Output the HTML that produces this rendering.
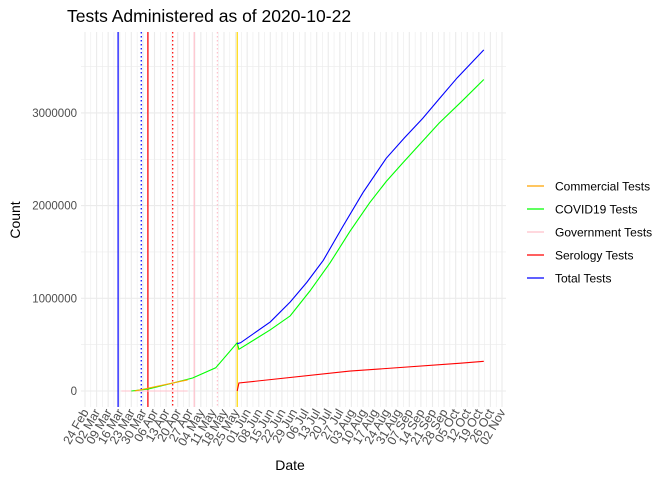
<!DOCTYPE html>
<html><head><meta charset="utf-8"><style>
body{margin:0;background:#fff;font-family:"Liberation Sans",sans-serif}
svg text{font-family:"Liberation Sans",sans-serif}
</style></head><body>
<svg id="c" width="672" height="480" xmlns="http://www.w3.org/2000/svg">
<text x="67" y="22" font-size="17.5" fill="#000">Tests Administered as of 2020-10-22</text>
<text x="290" y="470" font-size="14" text-anchor="middle">Date</text>
<text transform="translate(20,220) rotate(-90)" font-size="14" text-anchor="middle">Count</text>
<g id="grid"></g><g id="vl"></g><g id="series"></g><g id="axes"></g><g id="legend"></g>
</svg>
<script>
// days since 2020-02-24
const totalDays=[92,94,112,124,134,144,156,168,182,193,204,214,225,241];
const totalVals=[510000,520000,745000,960000,1170000,1410000,1780000,2140000,2510000,2730000,2940000,3150000,3380000,3680000];
const covidDays=[28,38,53,65,79,92,93,112,124,136,148,160,172,182,192,214,228,241];
const covidVals=[0,20000,85000,140000,250000,520000,450000,660000,810000,1080000,1380000,1720000,2030000,2260000,2460000,2890000,3130000,3360000];
const seroDays=[92,93,160,227,241];
const seroVals=[0,86000,215000,300000,320000];
const commDays=[30,62];
const commVals=[0,120000];
const govDays=[22,62];
const govVals=[0,0];
const vlineDays=[20,34,38,53,66,80,92];
const vlineColors=["#0000ff","#0000ff","#ff0000","#ff0000","#ffc0cb","#ffc0cb","#ffd700"];
const vlineDash=[false,true,false,true,false,true,false];
const tickLabels=["24 Feb","02 Mar","09 Mar","16 Mar","23 Mar","30 Mar","06 Apr","13 Apr","20 Apr","27 Apr","04 May","11 May","18 May","25 May","01 Jun","08 Jun","15 Jun","22 Jun","29 Jun","06 Jul","13 Jul","20 Jul","27 Jul","03 Aug","10 Aug","17 Aug","24 Aug","31 Aug","07 Sep","14 Sep","21 Sep","28 Sep","05 Oct","12 Oct","19 Oct","26 Oct","02 Nov"];
const yTicks=[0,1000000,2000000,3000000];
const legendNames=["Commercial Tests","COVID19 Tests","Government Tests","Serology Tests","Total Tests"];
const legendColors=["#ffa500","#00ff00","#ffc0cb","#ff0000","#0000ff"];

const NS="http://www.w3.org/2000/svg";
const X=d=>85+d*(417/252);
const Y=v=>391-v*92.7/1000000;
const T=32,B=407,L=81,R=506;
function mk(p,tag,a){const e=document.createElementNS(NS,tag);for(const k in a)e.setAttribute(k,a[k]);document.getElementById(p).appendChild(e);return e;}
for(let i=0;i<=72;i++){const x=X(i*3.5);const e=mk('grid','line',{x1:x,x2:x,y1:T,y2:B,stroke:'#ebebeb','stroke-width':i%2?0.6:1.1});

}
for(let v=0;v<=3500000;v+=500000){const y=Y(v);const e=mk('grid','line',{x1:L,x2:R,y1:y,y2:y,stroke:'#ebebeb','stroke-width':v%1000000?0.6:1.1});

}
vlineDays.forEach((d,i)=>{const a={x1:X(d),x2:X(d),y1:T,y2:B,stroke:vlineColors[i],'stroke-width':1.2};if(vlineDash[i])a['stroke-dasharray']='1.5,2.5';const e=mk('vl','line',a);

});
function line(ds,vs,col,name){const pts=ds.map((d,i)=>X(d).toFixed(1)+','+Y(vs[i]).toFixed(1)).join(' ');const e=mk('series','polyline',{points:pts,fill:'none',stroke:col,'stroke-width':1.1});

}
line(govDays,govVals,'#ffc0cb','government-tests-line');
line(seroDays,seroVals,'#ff0000','serology-tests-line');
line(covidDays,covidVals,'#00ff00','covid19-tests-line');
line(commDays,commVals,'#ffa500','commercial-tests-line');
line(totalDays,totalVals,'#0000ff','total-tests-line');
yTicks.forEach(v=>{const e=mk('axes','text',{x:77,y:Y(v)+4,'font-size':11.5,fill:'#4d4d4d','text-anchor':'end'});e.textContent=v;

});
tickLabels.forEach((t,i)=>{const x=X(i*7);const e=mk('axes','text',{transform:`translate(${x+4},${412}) rotate(-60)`,'font-size':12.3,fill:'#4d4d4d','text-anchor':'end'});e.textContent=t;

});
legendNames.forEach((n,i)=>{const y=186+i*23;const l=mk('legend','line',{x1:527,x2:544,y1:y,y2:y,stroke:legendColors[i],'stroke-width':1.2});


const t=mk('legend','text',{x:555,y:y+4.5,'font-size':12,fill:'#000'});t.textContent=n;

});
</script>
</body></html>
